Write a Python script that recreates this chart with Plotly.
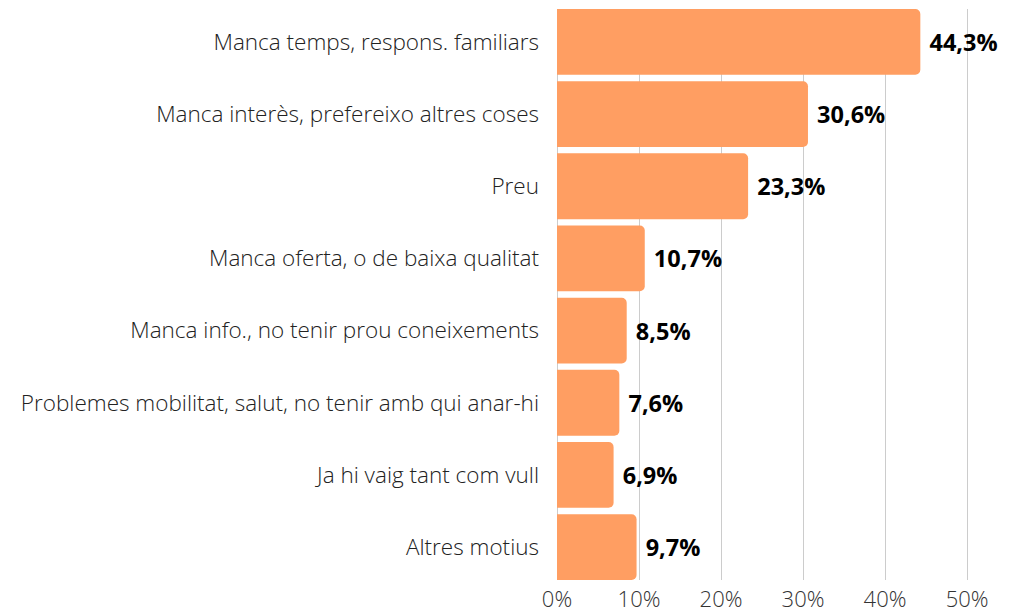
import plotly.graph_objects as go

categories = [
    "Manca temps, respons. familiars",
    "Manca interès, prefereixo altres coses",
    "Preu",
    "Manca oferta, o de baixa qualitat",
    "Manca info., no tenir prou coneixements",
    "Problemes mobilitat, salut, no tenir amb qui anar-hi",
    "Ja hi vaig tant com vull",
    "Altres motius",
]
values = [44.3, 30.6, 23.3, 10.7, 8.5, 7.6, 6.9, 9.7]
tick_vals = [0, 10, 20, 30, 40, 50]
tick_text = ["0%", "10%", "20%", "30%", "40%", "50%"]

bargap = 0.088

fig = go.Figure(
    go.Bar(
        x=values,
        y=categories,
        orientation="h",
        marker=dict(color="#FF9E62", cornerradius=5, line=dict(width=0)),
        texttemplate=" %{x:.1f}%",
        textposition="outside",
        textfont=dict(family="Open Sans", size=23.5, color="#000000", weight="bold"),
        cliponaxis=False,
        hoverinfo="skip",
    )
)

fig.update_layout(
    width=1021,
    height=614,
    margin=dict(l=557, r=49, t=9, b=34),
    paper_bgcolor="#FFFFFF",
    plot_bgcolor="#FFFFFF",
    separators=",.",
    bargap=bargap,
    showlegend=False,
    font=dict(family="Open Sans", color="#333333"),
)
fig.update_xaxes(
    range=[0, 50.6],
    tickvals=tick_vals,
    ticktext=tick_text,
    showgrid=True,
    gridcolor="#CCCCCC",
    gridwidth=1,
    zeroline=True,
    zerolinecolor="#CCCCCC",
    zerolinewidth=1,
    tickfont=dict(size=22, color="#333333", weight=300),
    ticks="",
    ticklabelstandoff=4,
    automargin=False,
)
fig.update_yaxes(
    categoryorder="array",
    categoryarray=categories[::-1],
    range=[-0.5 + bargap / 2, len(categories) - 0.5 - bargap / 2],
    tickfont=dict(size=22.5, color="#222222", weight=300),
    ticks="",
    ticklabelstandoff=17,
    showgrid=False,
    automargin=False,
)

fig.write_html("out.html")
